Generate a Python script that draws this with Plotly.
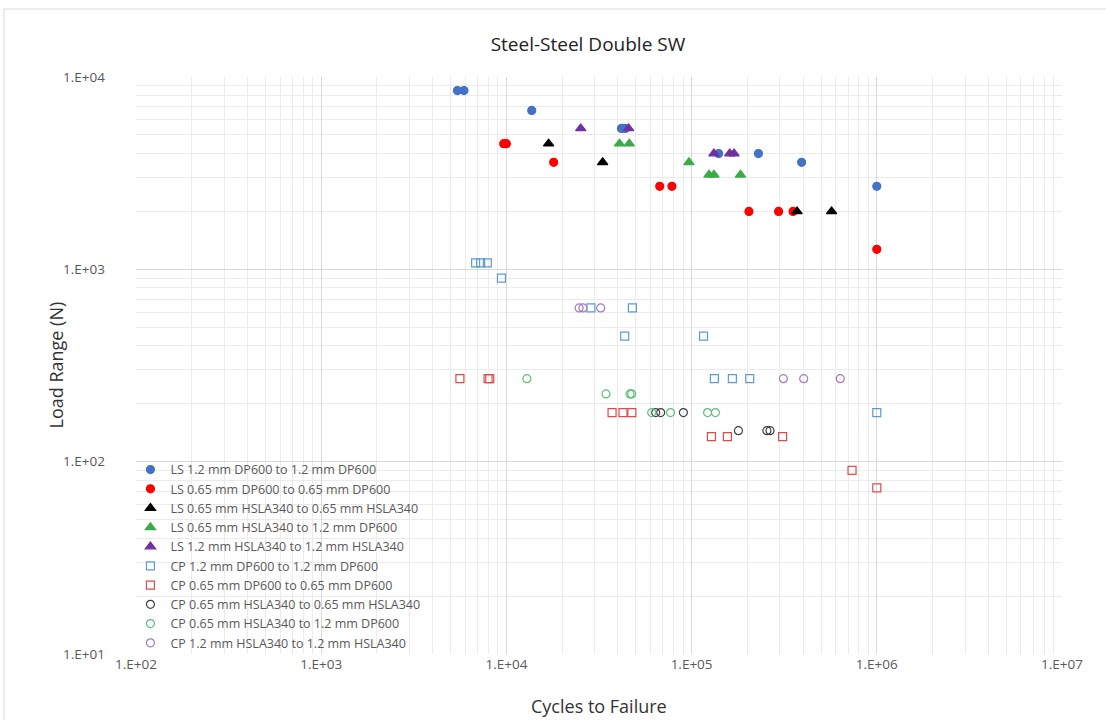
import plotly.graph_objects as go

# ---- data (cycles, load range N) ----
ls_dp12_x = [5440, 5900, 13700, 41800, 43900, 140000, 229500, 392800, 1000000]
ls_dp12_y = [8500, 8500, 6700, 5400, 5400, 4000, 4000, 3600, 2700]

ls_dp065_x = [9670, 10000, 18000, 67300, 78300, 204000, 295000, 353000, 1000000]
ls_dp065_y = [4500, 4500, 3600, 2700, 2700, 2000, 2000, 2000, 1270]

ls_hs065_x = [16900, 33100, 371000, 570000]
ls_hs065_y = [4500, 3600, 2000, 2000]

ls_hs065_dp12_x = [40800, 46100, 96800, 124200, 132000, 183600]
ls_hs065_dp12_y = [4500, 4500, 3600, 3100, 3100, 3100]

ls_hs12_x = [25200, 45700, 132000, 160700, 169500]
ls_hs12_y = [5400, 5400, 4000, 4000, 4000]

cp_dp12_x = [6820, 7260, 7890, 9400, 28600, 47900, 43500, 116000, 132700, 166000, 206000, 1000000]
cp_dp12_y = [1080, 1080, 1080, 900, 630, 630, 450, 450, 270, 270, 270, 180]

cp_dp065_x = [5610, 7960, 8130, 37200, 42600, 47600, 128000, 156000, 310000, 735000, 1000000]
cp_dp065_y = [270, 270, 270, 180, 180, 180, 135, 135, 135, 90, 73]

cp_hs065_x = [64000, 68100, 90300, 179000, 255000, 265000]
cp_hs065_y = [180, 180, 180, 145, 145, 145]

cp_hs065_dp12_x = [12900, 34500, 46500, 47500, 60900, 76900, 122000, 134400]
cp_hs065_dp12_y = [270, 225, 225, 225, 180, 180, 180, 180]

cp_hs12_x = [24700, 25900, 32300, 313000, 403000, 635000]
cp_hs12_y = [630, 630, 630, 270, 270, 270]

x_tickvals = [1e2, 1e3, 1e4, 1e5, 1e6, 1e7]
x_ticktext = ["1.E+02", "1.E+03", "1.E+04", "1.E+05", "1.E+06", "1.E+07"]
y_tickvals = [1e1, 1e2, 1e3, 1e4]
y_ticktext = ["1.E+01", "1.E+02", "1.E+03", "1.E+04"]

series = [
    ("LS 1.2 mm DP600 to 1.2 mm DP600", ls_dp12_x, ls_dp12_y, "circle", "#4472C4", 8),
    ("LS 0.65 mm DP600 to 0.65 mm DP600", ls_dp065_x, ls_dp065_y, "circle", "#FF0000", 8),
    ("LS 0.65 mm HSLA340 to 0.65 mm HSLA340", ls_hs065_x, ls_hs065_y, "triangle-up", "#000000", 9),
    ("LS 0.65 mm HSLA340 to 1.2 mm DP600", ls_hs065_dp12_x, ls_hs065_dp12_y, "triangle-up", "#3CAA48", 9),
    ("LS 1.2 mm HSLA340 to 1.2 mm HSLA340", ls_hs12_x, ls_hs12_y, "triangle-up", "#7030A0", 9),
    ("CP 1.2 mm DP600 to 1.2 mm DP600", cp_dp12_x, cp_dp12_y, "square-open", "#5B9BD5", 8),
    ("CP 0.65 mm DP600 to 0.65 mm DP600", cp_dp065_x, cp_dp065_y, "square-open", "#E04A4A", 8),
    ("CP 0.65 mm HSLA340 to 0.65 mm HSLA340", cp_hs065_x, cp_hs065_y, "circle-open", "#404040", 8),
    ("CP 0.65 mm HSLA340 to 1.2 mm DP600", cp_hs065_dp12_x, cp_hs065_dp12_y, "circle-open", "#5CBF7D", 8),
    ("CP 1.2 mm HSLA340 to 1.2 mm HSLA340", cp_hs12_x, cp_hs12_y, "circle-open", "#9E7CC1", 8),
]

fig = go.Figure()
for name, xs, ys, sym, col, sz in series:
    fig.add_trace(go.Scatter(
        x=xs, y=ys, mode="markers", name=name,
        marker=dict(symbol=sym, color=col, size=sz, line=dict(color=col, width=1.2)),
    ))

minor_x = [m * 10 ** d for d in range(2, 7) for m in range(2, 10)]
minor_y = [m * 10 ** d for d in range(1, 4) for m in range(2, 10)]

font_family = "'Open Sans', Lato, sans-serif"

fig.update_layout(
    width=1106, height=720,
    margin=dict(l=136, r=44, t=77, b=66),
    paper_bgcolor="white", plot_bgcolor="white",
    font=dict(family=font_family, color="#595959", size=12),
    title=dict(text="Steel-Steel Double SW", x=0.5316, xanchor="center",
               y=1 - 44 / 720, yanchor="middle", yref="container",
               font=dict(size=19, color="#222222", family=font_family)),
    showlegend=True,
    legend=dict(x=-0.006, y=0.345, xanchor="left", yanchor="top",
                bgcolor="rgba(0,0,0,0)", font=dict(size=12.5, color="#595959"),
                itemwidth=30, tracegroupgap=0),
    xaxis=dict(type="log", range=[2, 7], tickmode="array", tickvals=x_tickvals,
               ticktext=x_ticktext, showgrid=True, gridcolor="#D9D9D9", gridwidth=1,
               zeroline=False, showline=False, ticks="", automargin=False,
               tickfont=dict(size=13.5, color="#595959"),
               minor=dict(tickmode="array", tickvals=minor_x, showgrid=True,
                          gridcolor="#EBEBEB", gridwidth=1, ticks="")),
    yaxis=dict(type="log", range=[1, 4], tickmode="array", tickvals=y_tickvals,
               ticktext=y_ticktext, showgrid=True, gridcolor="#D9D9D9", gridwidth=1,
               zeroline=False, showline=False, ticks="", automargin=False,
               tickfont=dict(size=13.5, color="#595959"), ticklabelstandoff=30,
               minor=dict(tickmode="array", tickvals=minor_y, showgrid=True,
                          gridcolor="#EBEBEB", gridwidth=1, ticks="")),
    annotations=[
        dict(text="Cycles to Failure", xref="paper", yref="paper",
             x=0.5, y=(654 - 706) / 577, xanchor="center", yanchor="middle",
             showarrow=False, font=dict(size=18, color="#333333")),
        dict(text="Load Range (N)", xref="paper", yref="paper",
             x=(55 - 136) / 926, y=0.5, xanchor="center", yanchor="middle",
             textangle=-90, showarrow=False, font=dict(size=18, color="#333333")),
    ],
)

# outer chart-area frame (Excel style)
fig.add_shape(type="rect", xref="paper", yref="paper",
              x0=(4 - 136) / 926, x1=(1112 - 136) / 926,
              y0=(654 - 730) / 577, y1=(654 - 9) / 577,
              line=dict(color="#D9D9D9", width=1), fillcolor="rgba(0,0,0,0)", layer="below")

fig.write_html("out.html")
